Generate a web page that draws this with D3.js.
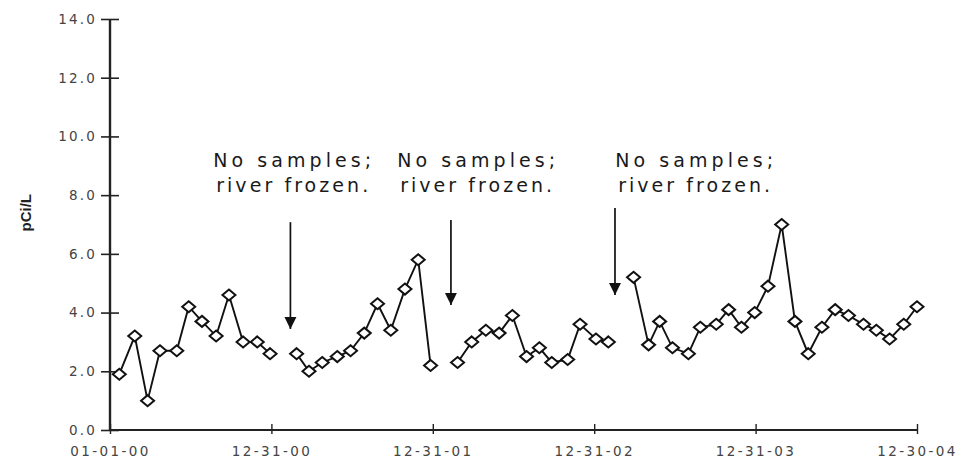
<!DOCTYPE html>
<html>
<head>
<meta charset="utf-8">
<script src="https://cdn.jsdelivr.net/npm/d3@7"></script>
<style>
  body { margin: 0; background: #fff; }
  svg { display: block; }
</style>
</head>
<body>
<div id="chart"></div>
<script>
// sample dates and pCi/L values
const sampleDates = [
  "2000-01-22", "2000-02-26", "2000-03-26", "2000-04-23", "2000-05-31", "2000-06-27",
  "2000-07-27", "2000-08-28", "2000-09-26", "2000-10-28", "2000-11-29", "2000-12-28",
  "2001-02-26", "2001-03-26", "2001-04-25", "2001-05-29", "2001-06-28", "2001-07-29",
  "2001-08-28", "2001-09-27", "2001-10-29", "2001-11-28", "2001-12-26",
  "2002-02-25", "2002-03-29", "2002-04-30", "2002-05-30", "2002-06-29", "2002-07-31",
  "2002-08-29", "2002-09-26", "2002-11-01", "2002-11-29", "2003-01-04", "2003-02-01",
  "2003-03-30", "2003-05-03", "2003-05-28", "2003-06-26", "2003-08-01", "2003-08-28",
  "2003-10-03", "2003-10-31", "2003-11-29", "2003-12-29", "2004-01-28", "2004-02-28",
  "2004-03-29", "2004-04-28", "2004-05-29", "2004-06-28", "2004-07-28", "2004-08-31",
  "2004-09-29", "2004-10-29", "2004-11-30", "2004-12-30"
];
const sampleValues = [
  1.9, 3.2, 1.0, 2.7, 2.7, 4.2, 3.7, 3.2, 4.6, 3.0, 3.0, 2.6,
  2.6, 2.0, 2.3, 2.5, 2.7, 3.3, 4.3, 3.4, 4.8, 5.8, 2.2,
  2.3, 3.0, 3.4, 3.3, 3.9, 2.5, 2.8, 2.3, 2.4, 3.6, 3.1, 3.0,
  5.2, 2.9, 3.7, 2.8, 2.6, 3.5, 3.6, 4.1, 3.5, 4.0, 4.9, 7.0,
  3.7, 2.6, 3.5, 4.1, 3.9, 3.6, 3.4, 3.1, 3.6, 4.2
];

// axis ticks
const yTicks = [0, 2, 4, 6, 8, 10, 12, 14];
const xTickDates = ["2000-01-01", "2000-12-31", "2001-12-31", "2002-12-31", "2003-12-31", "2004-12-30"];
const xTickLabels = ["01-01-00", "12-31-00", "12-31-01", "12-31-02", "12-31-03", "12-30-04"];

// "river frozen" notes: label centre, arrow position (date) and arrow top/tip (pCi/L)
const noteLines = ["No samples;", "river frozen."];
const noteLabelDates = ["2001-02-16", "2002-04-08", "2003-08-14"];
const noteArrowDates = ["2001-02-12", "2002-02-10", "2003-02-16"];
const noteArrowTop = [7.08, 7.15, 7.56];
const noteArrowTip = [3.44, 4.26, 4.6];
const noteLabelValue = 8.96;

const parse = d3.timeParse("%Y-%m-%d");
const width = 965, height = 463;

const svg = d3.select("#chart").append("svg")
  .attr("width", width)
  .attr("height", height);

const x = d3.scaleTime()
  .domain([parse("2000-01-01"), parse("2004-12-30")])
  .range([110, 917]);

const y = d3.scaleLinear()
  .domain([0, 14])
  .range([430, 19]);

const data = sampleDates.map((d, i) => ({ date: parse(d), value: sampleValues[i] }));

// break the line where sampling stopped (gap longer than ~45 days)
const segments = [];
let current = [];
data.forEach((d, i) => {
  if (i > 0 && (d.date - data[i - 1].date) / 864e5 > 45) {
    segments.push(current);
    current = [];
  }
  current.push(d);
});
segments.push(current);

// Y axis
const yAxis = svg.append("g")
  .attr("transform", `translate(${x.range()[0]},0)`)
  .call(d3.axisLeft(y).tickValues(yTicks).tickFormat(d3.format(".1f")).tickSize(0).tickPadding(13));
yAxis.select(".domain").remove();
yAxis.selectAll(".tick line").remove();
yAxis.selectAll(".tick").append("line")
  .attr("x1", -9).attr("x2", 9)
  .attr("stroke", "#222").attr("stroke-width", 1.6);
yAxis.append("line")
  .attr("y1", y(0)).attr("y2", y(14))
  .attr("stroke", "#222").attr("stroke-width", 2.4);
yAxis.selectAll(".tick text")
  .attr("fill", "#444")
  .style("font-family", "DejaVu Sans")
  .style("font-size", "13.5px")
  .style("letter-spacing", "2.2px");

// X axis
const xAxis = svg.append("g")
  .attr("transform", `translate(0,${y(0)})`)
  .call(d3.axisBottom(x)
    .tickValues(xTickDates.map(parse))
    .tickFormat((d, i) => xTickLabels[i])
    .tickSize(0)
    .tickPadding(16));
xAxis.select(".domain").remove();
xAxis.append("line")
  .attr("x1", x.range()[0]).attr("x2", x.range()[1])
  .attr("stroke", "#222").attr("stroke-width", 2);
xAxis.selectAll(".tick").append("line")
  .attr("y1", -6).attr("y2", 4)
  .attr("stroke", "#222").attr("stroke-width", 1.4);
xAxis.selectAll(".tick text")
  .attr("fill", "#444")
  .style("font-family", "DejaVu Sans")
  .style("font-size", "13.5px")
  .style("letter-spacing", "2.4px");

// Y label
svg.append("text")
  .attr("transform", `translate(31,${y(7.4)}) rotate(-90)`)
  .attr("text-anchor", "middle")
  .attr("fill", "#222")
  .style("font-family", "Liberation Sans Narrow, Liberation Sans")
  .style("font-size", "15px")
  .style("font-weight", "bold")
  .text("pCi/L");

// data line and markers
const line = d3.line()
  .x(d => x(d.date))
  .y(d => y(d.value));

svg.append("g").selectAll("path")
  .data(segments)
  .enter().append("path")
  .attr("d", line)
  .attr("fill", "none")
  .attr("stroke", "#111")
  .attr("stroke-width", 1.9);

svg.append("g").selectAll("path")
  .data(data)
  .enter().append("path")
  .attr("transform", d => `translate(${x(d.date)},${y(d.value)})`)
  .attr("d", "M0,-5.5L6.5,0L0,5.5L-6.5,0Z")
  .attr("fill", "#fff")
  .attr("stroke", "#111")
  .attr("stroke-width", 2);

// arrows
svg.append("defs").append("marker")
  .attr("id", "arrowhead")
  .attr("viewBox", "0 -5 10 10")
  .attr("refX", 10)
  .attr("refY", 0)
  .attr("markerWidth", 12)
  .attr("markerHeight", 13)
  .attr("markerUnits", "userSpaceOnUse")
  .attr("orient", "auto")
  .append("path")
  .attr("d", "M0,-5L10,0L0,5Z")
  .attr("fill", "#111");

svg.append("g").selectAll("line")
  .data(noteArrowDates)
  .enter().append("line")
  .attr("x1", d => x(parse(d)))
  .attr("x2", d => x(parse(d)))
  .attr("y1", (d, i) => y(noteArrowTop[i]))
  .attr("y2", (d, i) => y(noteArrowTip[i]))
  .attr("stroke", "#111")
  .attr("stroke-width", 1.7)
  .attr("marker-end", "url(#arrowhead)");

// notes
const notes = svg.append("g").selectAll("text")
  .data(noteLabelDates)
  .enter().append("text")
  .attr("text-anchor", "middle")
  .attr("fill", "#1a1a1a")
  .style("font-family", "DejaVu Sans")
  .style("font-size", "19px");

notes.selectAll("tspan")
  .data(d => noteLines.map(t => ({ date: d, text: t })))
  .enter().append("tspan")
  .attr("x", d => x(parse(d.date)))
  .attr("y", (d, i) => y(noteLabelValue) + i * 25)
  .attr("textLength", (d, i) => i === 0 ? 158 : 152)
  .attr("lengthAdjust", "spacing")
  .text(d => d.text);
</script>
</body>
</html>
